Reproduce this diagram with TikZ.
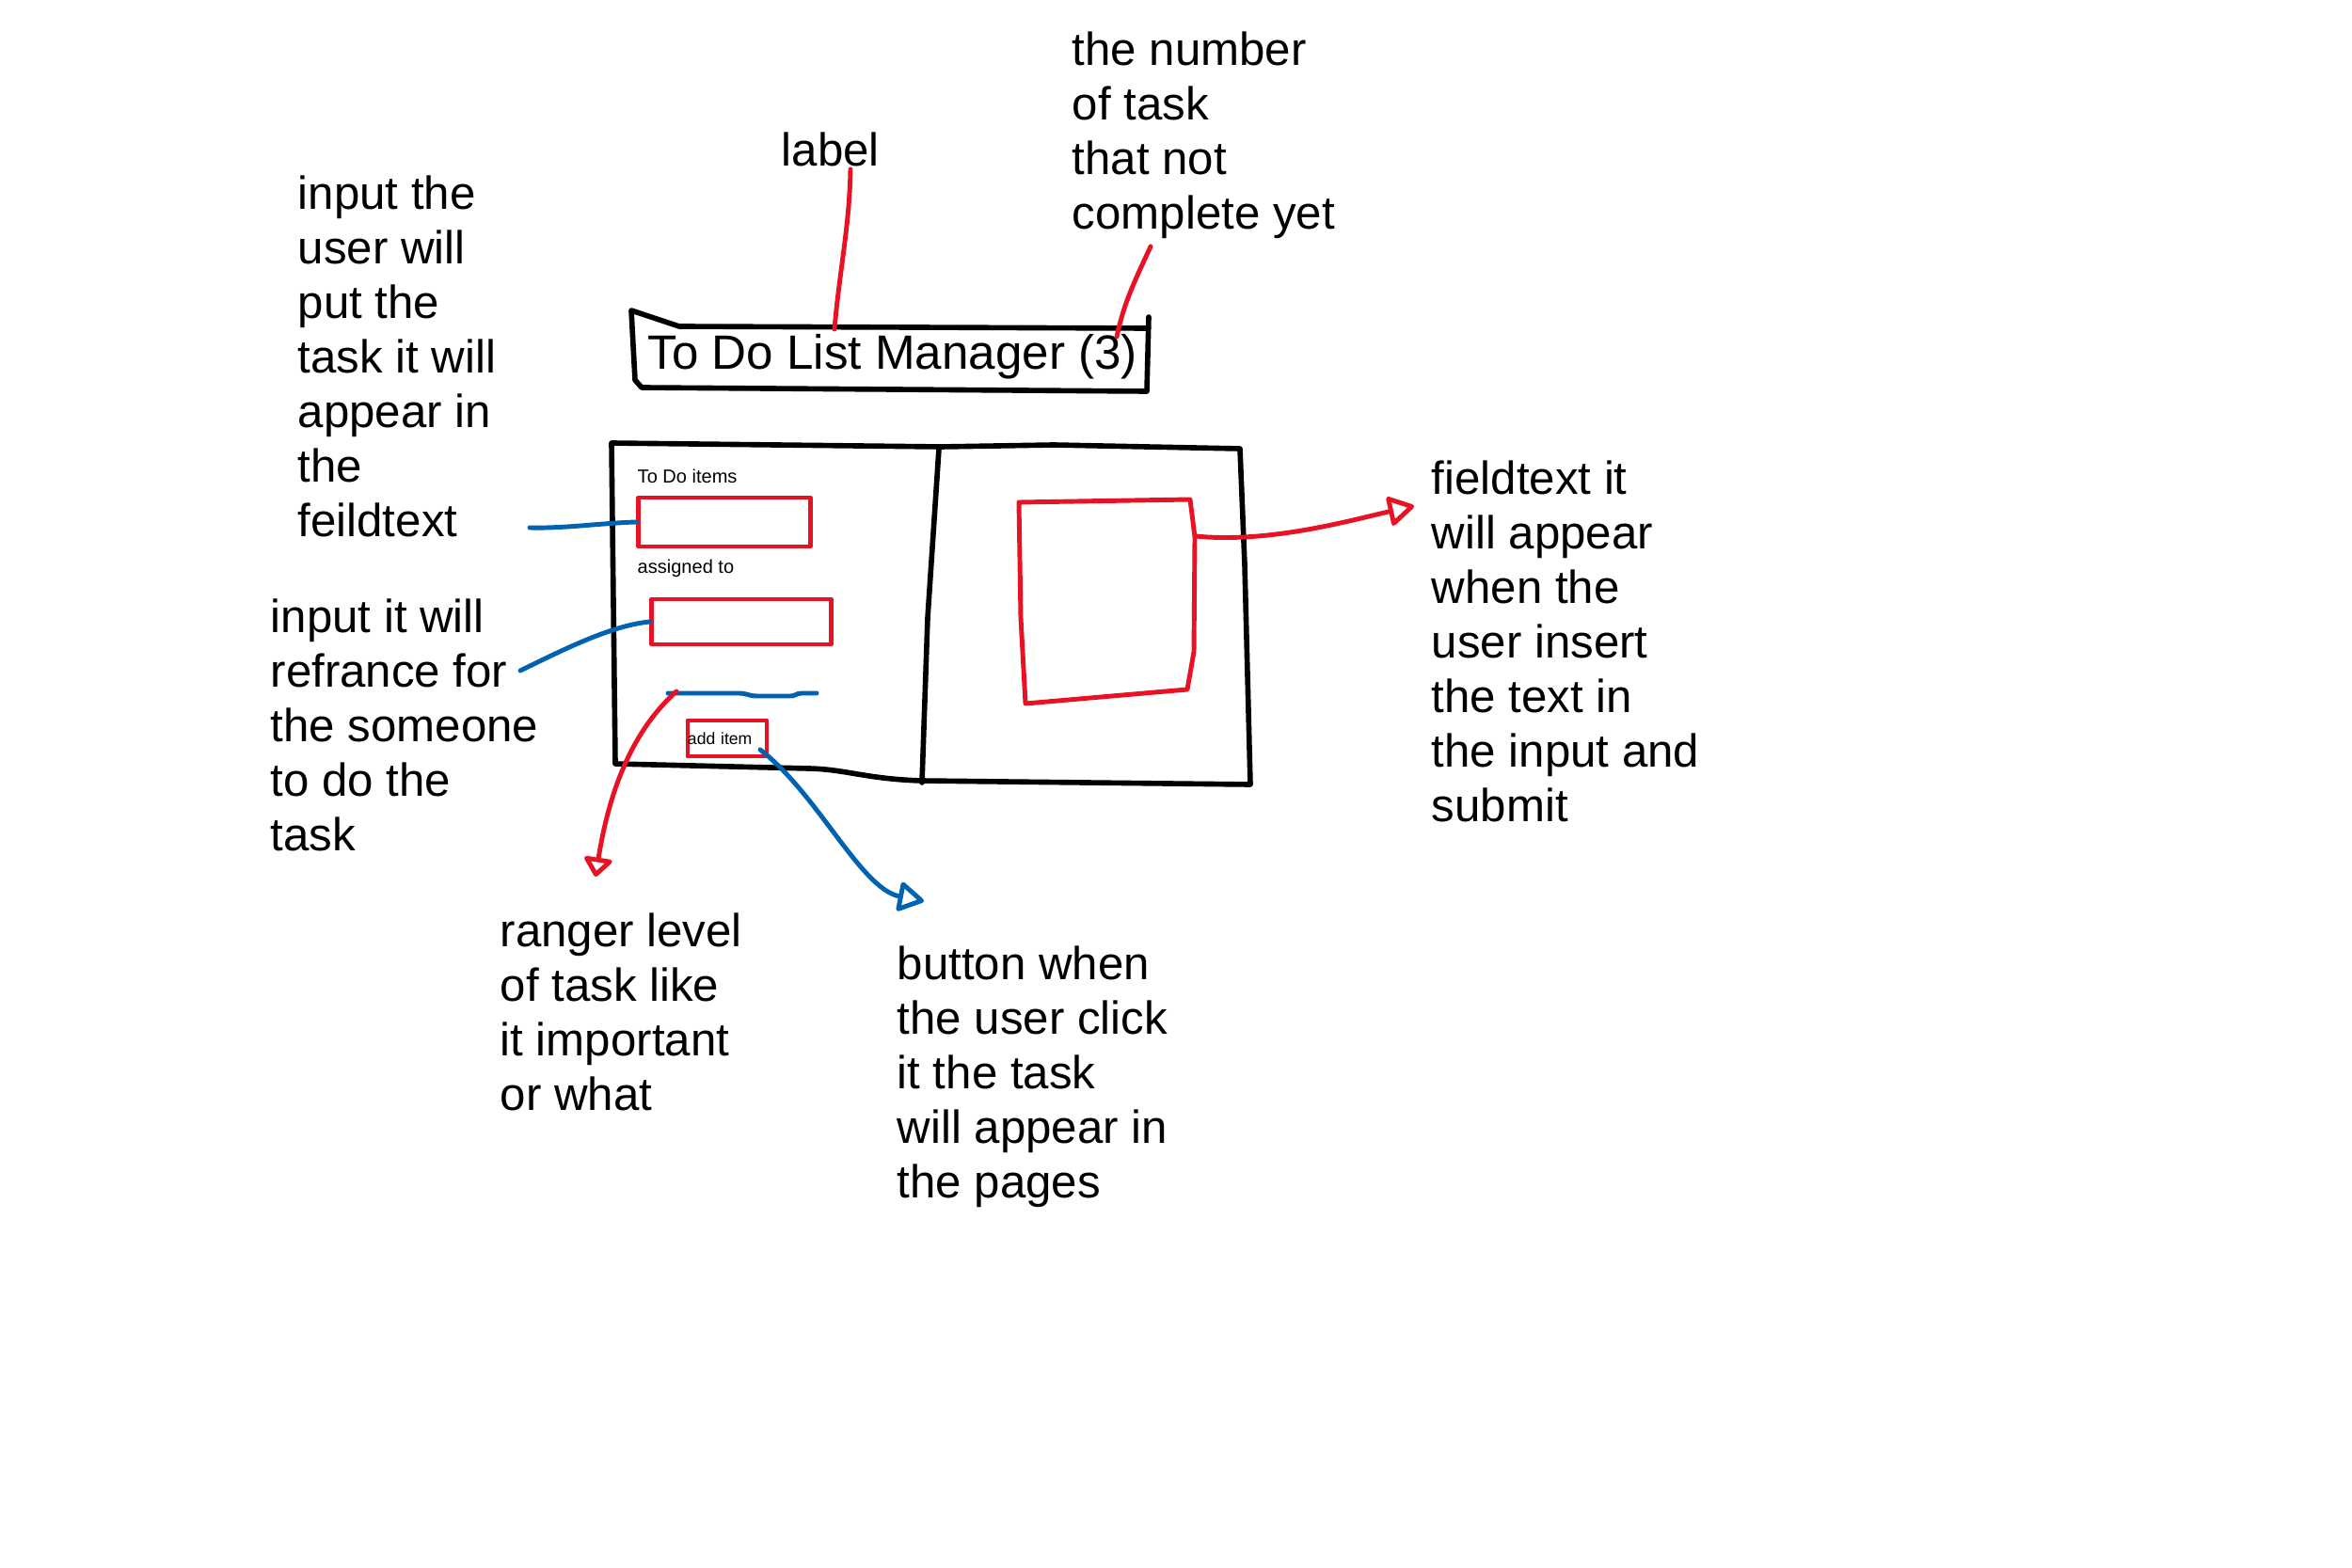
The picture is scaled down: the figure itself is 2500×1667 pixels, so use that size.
\documentclass[tikz,border=0pt]{standalone}
\usepackage{fontspec}
\setmainfont{Liberation Sans}
\usetikzlibrary{arrows.meta}
\definecolor{inkred}{HTML}{E81224}
\definecolor{inkblue}{HTML}{0063B1}
\begin{document}
\begin{tikzpicture}[x=0.01cm,y=-0.01cm,
  ink/.style={line cap=round,line join=round},
  blk/.style={ink,draw=black,line width=1.6pt},
  rink/.style={ink,draw=inkred,line width=1.4pt},
  bink/.style={ink,draw=inkblue,line width=1.4pt},
  note/.style={anchor=north west,inner sep=0pt,align=left,font=\fontsize{14}{16.5}\selectfont},
  small/.style={anchor=base west,inner sep=0pt,font=\fontsize{5.7}{7}\selectfont},
  redbox/.style={rink,rectangle,inner sep=0pt},
  openhead/.style={-{Triangle[open,round,length=0.3cm,width=0.34cm]}},
  shorthead/.style={-{Triangle[open,round,length=0.22cm,width=0.34cm]}}]
\fill[white] (0,0) rectangle (2500,1667);
\useasboundingbox (0,0) rectangle (2500,1667);

% title bar
\draw[blk] (1221,337) -- (1219,416) -- (682,412) -- (675,404) -- (671,330) -- (722,347) -- (1221,349);
\node[anchor=base west,inner sep=0pt,font=\fontsize{14.55}{17}\selectfont] (title) at (688,393) {To Do List Manager (3)};

% main window
\draw[blk] (650,471) -- (1000,475) -- (1120,473) -- (1318,477) -- (1323,600) -- (1329,834) -- (979,830)
  .. controls (920,828) and (900,818) .. (860,817) -- (654,812) -- cycle;
\draw[blk] (998,477) -- (986,657) -- (980,832);

% form
\node[small] (todolbl) at (677,514) {To Do items};
\node[small] (asglbl) at (677,609) {assigned to};
\node[redbox,minimum width=1.82cm,minimum height=0.52cm] (in1) at (770,555) {};
\node[redbox,minimum width=1.90cm,minimum height=0.48cm] (in2) at (788,661) {};
\coordinate (sl1) at (710,737);
\coordinate (sl2) at (868,737);
\draw[bink] (sl1) -- (785,737) .. controls (795,737) and (795,740) .. (805,740) -- (840,740) .. controls (846,740) and (846,737) .. (852,737) -- (sl2);
\node[redbox,minimum width=0.84cm,minimum height=0.38cm,text width=0.84cm,inner xsep=0pt,align=left,font=\fontsize{5}{6}\selectfont] (btn) at (773,785) {add item};

% output area
\draw[rink] (1083,534) -- (1265,531) -- (1270,571) -- (1269,693) -- (1262,733) -- (1090,748) -- (1085,657) -- cycle;
\coordinate (bigR) at (1271,570);

% notes
\node[note] (n1) at (316,181) {\strut input the\\user will\\put the\\task it will\\appear in\\the\\feildtext};
\node[note] (lbl) at (830,135) {\strut label};
\node[note] (n3) at (1139,28) {\strut the number\\of task\\that not\\complete yet};
\node[note] (n4) at (287,631) {\strut input it will\\refrance for\\the someone\\to do the\\task};
\node[note] (n5) at (1521,484) {\strut fieldtext it\\will appear\\when the\\user insert\\the text in\\the input and\\submit};
\node[note] (n6) at (531,965) {\strut ranger level\\of task like\\it important\\or what};
\node[note] (n7) at (953,1000) {\strut button when\\the user click\\it the task\\will appear in\\the pages};

% connectors
\coordinate (lblfoot) at (904,180);
\coordinate (tt1) at (887,350);
\draw[rink] (lblfoot) .. controls (903,240) and (892,290) .. (tt1);
\coordinate (numfoot) at (1223,262);
\coordinate (tt2) at (1187,358);
\draw[rink] (numfoot) .. controls (1208,295) and (1195,320) .. (tt2);
\coordinate (b1s) at (563,561);
\draw[bink] (b1s) .. controls (600,562) and (640,556) .. (in1.west);
\coordinate (b2s) at (553,713);
\draw[bink] (b2s) .. controls (600,690) and (650,665) .. (in2.west);
\coordinate (slred) at (719,735);
\coordinate (rangetip) at (633,932);
\draw[rink,shorthead] (slred) .. controls (680,770) and (650,825) .. (rangetip);
\coordinate (btnout) at (808,797);
\coordinate (btntip) at (982,958);
\draw[bink,openhead] (btnout) .. controls (870,845) and (915,945) .. (btntip);
\coordinate (fieldtip) at (1503,538);
\draw[rink,openhead] (bigR) .. controls (1350,578) and (1440,552) .. (fieldtip);
\end{tikzpicture}
\end{document}
